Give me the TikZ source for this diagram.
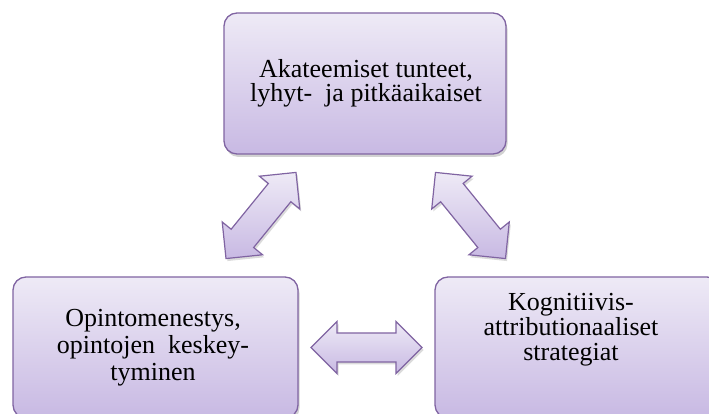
\documentclass[tikz,border=0pt]{standalone}
\usepackage{fontspec}
\setmainfont{Liberation Serif}
\usetikzlibrary{shadows,calc}
\definecolor{boxline}{HTML}{8064A2}
\definecolor{boxtop}{HTML}{EEEAF6}
\definecolor{boxbot}{HTML}{C8B9E3}
\tikzset{
  box/.style={draw=boxline, line width=1.3pt, rounded corners=13pt,
    top color=boxtop, bottom color=boxbot, minimum height=141pt,
    inner sep=0pt,
    drop shadow={shadow xshift=1.5pt, shadow yshift=-3pt, opacity=0.25, fill=black!70}},
  boxtext/.style={align=center, inner sep=0pt, text=black},
  arrowshape/.style={draw=boxline, line width=1.2pt, line join=miter,
    top color=boxtop, bottom color=boxbot,
    drop shadow={shadow xshift=1.5pt, shadow yshift=-2.5pt, opacity=0.2, fill=black!70}},
  dblarrow/.pic={
    \path[arrowshape] (-55.5,0) -- (-29.5,26) -- (-29.5,14.5) -- (29.5,14.5)
      -- (29.5,26) -- (55.5,0) -- (29.5,-26) -- (29.5,-14.5) -- (-29.5,-14.5)
      -- (-29.5,-26) -- cycle;
  }
}
\begin{document}
\begin{tikzpicture}[x=1pt,y=1pt]
\useasboundingbox (0,0) rectangle (709,414);
\clip (0,0) rectangle (709,414);
% boxes
\node[box, minimum width=282pt] (top) at (365,330.5) {};
\node[box, minimum width=285pt] (bl) at (155.5,66.5) {};
\node[box, minimum width=285pt] (br) at (577.5,66.5) {};
% texts
\node[boxtext, font=\fontsize{26}{24}\selectfont] (toptext) at (366,331)
  {Akateemiset tunteet,\\lyhyt-\ \ ja pitkäaikaiset};
\node[boxtext, font=\fontsize{26}{27}\selectfont] (bltext) at (153,66)
  {Opintomenestys,\\opintojen\ \ keskey-\\tyminen};
\node[boxtext, font=\fontsize{26}{25}\selectfont] (brtext) at (571,84)
  {Kognitiivis-\\attributionaaliset\\strategiat};
% block arrows between the boxes
\coordinate (m1) at ($(top.south west)!0.5!(bl.north east)$);
\coordinate (m2) at ($(top.south east)!0.5!(br.north west)$);
\coordinate (m3) at ($(bl.east)!0.5!(br.west)$);
\pic[rotate=50.9] (a1) at (m1) {dblarrow};
\pic[rotate=-50.9] (a2) at (m2) {dblarrow};
\pic (a3) at (m3) {dblarrow};
\end{tikzpicture}
\end{document}
